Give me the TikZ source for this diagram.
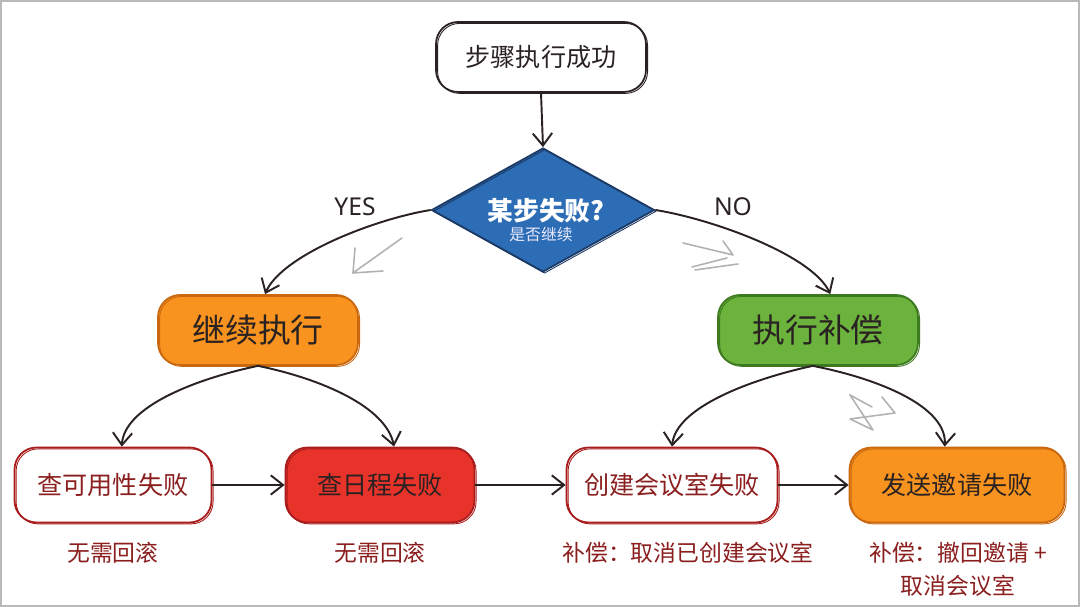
\documentclass[tikz,border=0pt]{standalone}
\usepackage{fontspec}
\setmainfont{Noto Sans CJK SC}
\newfontfamily\latinhand{Noto Sans}
\usetikzlibrary{shapes.geometric,arrows.meta}
\definecolor{orangeF}{HTML}{F7931E}
\definecolor{orangeD}{HTML}{C9680F}
\definecolor{greenF}{HTML}{6BB33C}
\definecolor{greenD}{HTML}{3D7A1F}
\definecolor{redF}{HTML}{E8332A}
\definecolor{redD}{HTML}{A81C1C}
\definecolor{blueF}{HTML}{2C6DB5}
\definecolor{blueD}{HTML}{1B3A66}
\definecolor{darkred}{HTML}{8B1E1E}
\definecolor{ink}{HTML}{2A2222}
\begin{document}
\begin{tikzpicture}[x=0.02cm,y=0.02cm,
  sketch/.style={postaction={draw, line width=0.5pt, transform canvas={shift={(0.9pt,-0.8pt)}}}},
  box/.style={rectangle, rounded corners=12.5pt, line width=1pt, inner sep=0pt, sketch},
  bigtxt/.style={font=\fontsize{18.7}{22}\selectfont},
  midtxt/.style={font=\fontsize{14.3}{17}\selectfont},
  lbl/.style={font=\fontsize{13}{16}\selectfont, text=darkred},
  arr/.style={line width=1.1pt, draw=ink, -{Straight Barb[length=7pt,width=11pt,line width=1.1pt]}},
  deco/.style={draw=gray!60, line width=0.9pt, line cap=round, line join=round}
]
\useasboundingbox (0,0) rectangle (1080,607);
\fill[white] (0,0) rectangle (1080,607);
\draw[gray!55, line width=1.2pt] (0.8,0.8) rectangle (1079.2,606.2);

% nodes
\node[box, fill=white, draw=ink, minimum width=4.2cm, minimum height=1.4cm, midtxt, text=ink] (start) at (541,550) {步骤执行成功};
\node[diamond, draw=blueD, fill=blueF, line width=1pt, minimum width=4.46cm, minimum height=2.48cm, inner sep=0pt, sketch] (dec) at (543,397) {};
\node[text=white, font=\bfseries\fontsize{14.7}{17}\selectfont, inner sep=0pt] (decA) at (546,396) {某步失败?};
\node[text=white!92!blue, font=\fontsize{9}{11}\selectfont, inner sep=0pt] (decB) at (541,372) {是否继续};
\node[font=\latinhand\fontsize{14}{17}\selectfont, text=ink] (yes) at (355,400) {YES};
\node[font=\latinhand\fontsize{14}{17}\selectfont, text=ink] (no) at (733,400) {NO};

\node[box, fill=orangeF, draw=orangeD, minimum width=4.0cm, minimum height=1.4cm, bigtxt, text=ink] (cont) at (258,277) {继续执行};
\node[box, fill=greenF, draw=greenD, minimum width=4.0cm, minimum height=1.4cm, bigtxt, text=ink] (comp) at (818,277) {执行补偿};

\node[box, fill=white, draw=redD, minimum width=3.94cm, minimum height=1.5cm, midtxt, text=darkred] (b1) at (113,122) {查可用性失败};
\node[box, fill=redF, draw=redD, minimum width=3.78cm, minimum height=1.5cm, midtxt, text=ink] (b2) at (380,122) {查日程失败};
\node[box, fill=white, draw=redD, minimum width=4.22cm, minimum height=1.5cm, midtxt, text=darkred] (b3) at (672,122) {创建会议室失败};
\node[box, fill=orangeF, draw=orangeD, minimum width=4.3cm, minimum height=1.5cm, midtxt, text=ink] (b4) at (957,122) {发送邀请失败};

\node[lbl] (l1) at (113,54) {无需回滚};
\node[lbl] (l2) at (380,54) {无需回滚};
\node[lbl] (l3) at (688,54) {补偿：取消已创建会议室};
\node[lbl] (l4) at (958,54) {补偿：撤回邀请 +};
\node[lbl] (l5) at (958,21) {取消会议室};

% connectors
\draw[arr] (start.south) -- (dec.north);
\draw[arr] (dec.west) .. controls (375,388) and (282,352) .. ([xshift=4]cont.north);
\draw[arr] (dec.east) .. controls (712,388) and (812,352) .. ([xshift=7]comp.north);
\draw[arr] (cont.south) .. controls (195,228) and (124,200) .. ([xshift=5]b1.north);
\draw[arr] (cont.south) .. controls (322,228) and (386,200) .. ([xshift=8]b2.north);
\draw[arr] ([xshift=-3]comp.south) .. controls (752,228) and (676,200) .. (b3.north);
\draw[arr] ([xshift=-3]comp.south) .. controls (880,228) and (947,200) .. ([xshift=-7]b4.north);
\draw[arr] (b1.east) -- (b2.west);
\draw[arr] (b2.east) -- (b3.west);
\draw[arr] (b3.east) -- (b4.west);

% faint sketch marks
\draw[deco] (402,369) -- (353,334) -- (383,336);
\draw[deco] (355,359) -- (353,334);
\draw[deco] (683,364) -- (733,352) -- (723,366);
\draw[deco] (692,340) -- (727,349);
\draw[deco] (695,337) -- (738,343);
\draw[deco] (850,212) -- (873,177) -- (850,188) -- (895,194) -- (882,210);
\draw[deco] (850,212) -- (872,200);
\end{tikzpicture}
\end{document}
